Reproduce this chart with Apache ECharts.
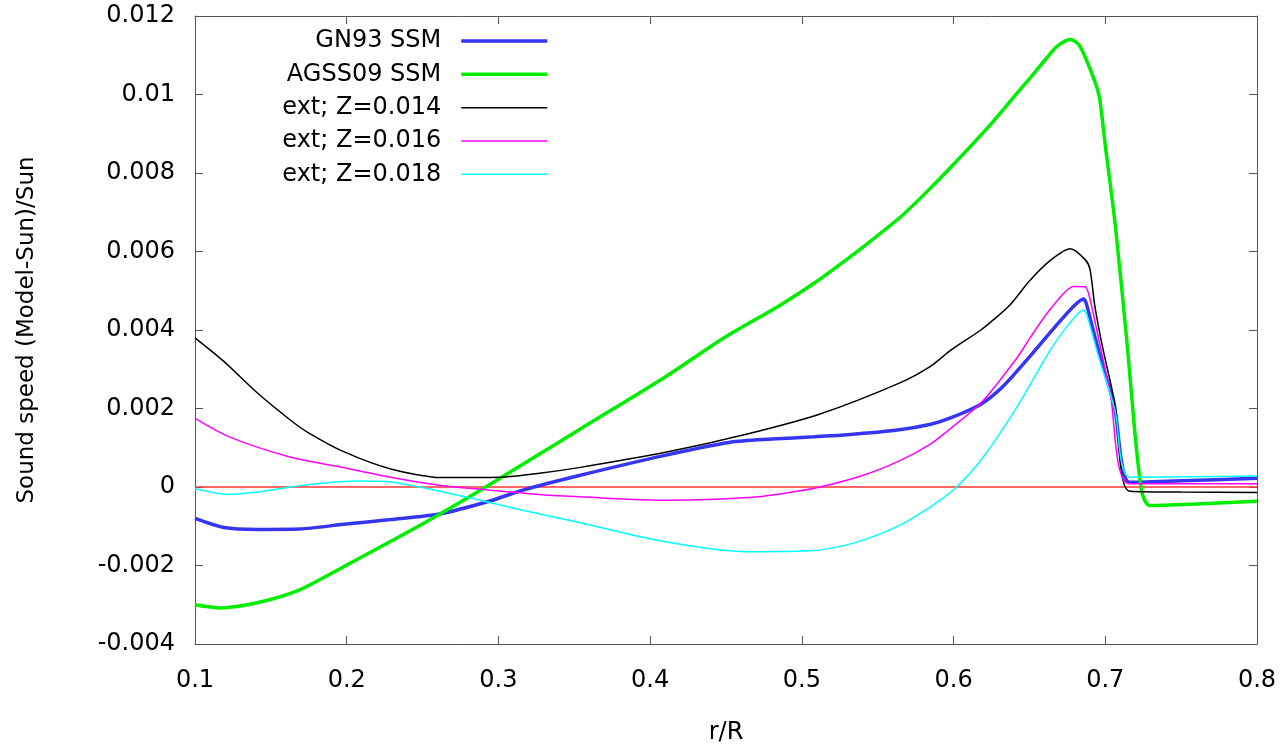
<!DOCTYPE html>
<html>
<head>
<meta charset="utf-8">
<script src="https://cdn.jsdelivr.net/npm/echarts@6/dist/echarts.min.js"></script>
<style>html,body{margin:0;padding:0;background:#fff}#c{width:1285px;height:750px}</style>
</head>
<body>
<div id="c"></div>
<script>
var xTicks = [0.1, 0.2, 0.3, 0.4, 0.5, 0.6, 0.7, 0.8];
var yTicks = [-0.004, -0.002, 0, 0.002, 0.004, 0.006, 0.008, 0.01, 0.012];

var gn93X = [0.100,0.119,0.141,0.169,0.198,0.229,0.262,0.295,0.316,0.354,0.409,0.453,0.480,0.508,0.530,0.563,0.585,0.598,0.618,0.633,0.653,0.668,0.679,0.6856,0.6874,0.692,0.6966,0.703,0.7065,0.716,0.750,0.800];
var gn93Y = [-0.0008,-0.00103,-0.00108,-0.00107,-0.00095,-0.00083,-0.00068,-0.00035,-0.00008,0.0003,0.0008,0.00114,0.00122,0.00128,0.00133,0.00145,0.0016,0.00176,0.00211,0.00258,0.00345,0.00413,0.0046,0.00479,0.00468,0.0040,0.00333,0.00248,0.00194,0.00012,0.00016,0.00022];

var agssX = [0.100,0.1165,0.141,0.169,0.198,0.2505,0.290,0.354,0.411,0.449,0.486,0.508,0.523,0.5405,0.565,0.580,0.598,0.624,0.642,0.6504,0.6614,0.668,0.677,0.683,0.691,0.696,0.700,0.7065,0.7145,0.7197,0.7235,0.7255,0.729,0.760,0.800];
var agssY = [-0.0030,-0.00308,-0.00295,-0.00262,-0.00203,-0.00093,-0.00004,0.00148,0.00283,0.00381,0.00464,0.00519,0.00561,0.00612,0.00688,0.00743,0.00814,0.00922,0.01004,0.01042,0.01093,0.01122,0.01140,0.01125,0.01055,0.00995,0.0087,0.0067,0.0036,0.0013,0.0000,-0.0003,-0.00047,-0.00043,-0.00036];

var z014X = [0.100,0.119,0.141,0.163,0.174,0.198,0.229,0.262,0.301,0.327,0.354,0.411,0.464,0.512,0.565,0.585,0.598,0.618,0.626,0.637,0.650,0.664,0.677,0.687,0.690,0.693,0.698,0.7065,0.7155,0.750,0.800];
var z014Y = [0.0038,0.0032,0.0024,0.0017,0.0014,0.0009,0.00046,0.00024,0.00025,0.00035,0.0005,0.00089,0.00135,0.00186,0.00266,0.00308,0.00348,0.0040,0.00425,0.00463,0.00525,0.00578,0.00607,0.00578,0.00553,0.00464,0.0036,0.0021,-0.0001,-0.00013,-0.00014];

var z016X = [0.100,0.123,0.163,0.196,0.229,0.262,0.295,0.327,0.354,0.413,0.464,0.490,0.512,0.5405,0.565,0.585,0.598,0.619,0.642,0.6504,0.6636,0.679,0.6867,0.6896,0.6944,0.7032,0.716,0.800];
var z016Y = [0.00175,0.00127,0.00076,0.00051,0.00025,0.00004,-0.00008,-0.00019,-0.00025,-0.00034,-0.00027,-0.00015,0.0,0.0003,0.00068,0.0011,0.00149,0.00218,0.0033,0.0038,0.00452,0.00511,0.0051,0.00484,0.0040,0.0024,0.00008,0.00008];

var z018X = [0.100,0.121,0.141,0.163,0.185,0.207,0.229,0.2505,0.2835,0.316,0.354,0.409,0.464,0.508,0.534,0.5626,0.5845,0.602,0.6197,0.6416,0.6636,0.6746,0.6856,0.6878,0.6955,0.7065,0.7164,0.800];
var z018Y = [-0.00004,-0.00019,-0.00013,0.0,0.0001,0.00015,0.00013,-0.00002,-0.0003,-0.00059,-0.00091,-0.00139,-0.00165,-0.00162,-0.00143,-0.00101,-0.00051,0.0,0.00077,0.00203,0.00348,0.00408,0.00451,0.00439,0.00333,0.00194,0.00025,0.00028];

var zeroX = [0.1, 0.8];
var zeroY = [0, 0];

function pairs(xs, ys) { return xs.map(function (x, i) { return [x, ys[i]]; }); }

var FONT = 'DejaVu Sans';
var chart = echarts.init(document.getElementById('c'));

function mkX(pos, labels) {
  return {
    type: 'value', position: pos, min: xTicks[0], max: xTicks[xTicks.length - 1], interval: 0.1,
    axisLine: {show: true, onZero: false, lineStyle: {color: '#555', width: 1}},
    axisTick: {show: true, inside: true, length: 8, lineStyle: {color: '#555'}},
    axisLabel: {show: labels, color: '#000', fontFamily: FONT, fontSize: 24, margin: 25,
      formatter: function (v) { return +v.toFixed(1); }},
    splitLine: {show: false},
    name: labels ? 'r/R' : '', nameLocation: 'middle', nameGap: 77,
    nameTextStyle: {color: '#000', fontFamily: FONT, fontSize: 24}
  };
}
function mkY(pos, labels) {
  return {
    type: 'value', position: pos, min: yTicks[0], max: yTicks[yTicks.length - 1], interval: 0.002,
    axisLine: {show: true, onZero: false, lineStyle: {color: '#555', width: 1}},
    axisTick: {show: true, inside: true, length: 8, lineStyle: {color: '#555'}},
    axisLabel: {show: labels, color: '#000', fontFamily: FONT, fontSize: 24, margin: 20,
      formatter: function (v) { return String(+v.toFixed(3)); }},
    splitLine: {show: false},
    name: labels ? 'Sound speed (Model-Sun)/Sun' : '', nameLocation: 'middle', nameGap: 156,
    nameTextStyle: {color: '#000', fontFamily: FONT, fontSize: 23}
  };
}

function line(name, xs, ys, color, width) {
  return {
    name: name, type: 'line', xAxisIndex: 0, yAxisIndex: 0,
    data: pairs(xs, ys), symbol: 'none', smooth: 0.25,
    lineStyle: {color: color, width: width}, itemStyle: {color: color},
    emphasis: {disabled: true}, animation: false
  };
}

chart.setOption({
  animation: false,
  grid: {left: 195, right: 28, top: 16, bottom: 102, show: false},
  legend: {
    orient: 'vertical', align: 'right', right: 736, top: 29, padding: 0,
    itemWidth: 86, itemHeight: 14, itemGap: 9.33,
    data: ['GN93 SSM', 'AGSS09 SSM', 'ext; Z=0.014', 'ext; Z=0.016', 'ext; Z=0.018'],
    textStyle: {color: '#000', fontFamily: FONT, fontSize: 24, lineHeight: 24, padding: [0, 15, 0, 0]},
    lineStyle: {width: 'inherit'},
    itemStyle: {color: 'rgba(0,0,0,0)', borderColor: 'rgba(0,0,0,0)', borderWidth: 0, opacity: 0},
    selectedMode: false
  },
  xAxis: [mkX('bottom', true), mkX('top', false)],
  yAxis: [mkY('left', true), mkY('right', false)],
  series: [
    line('zero', zeroX, zeroY, '#ff3333', 1.6),
    line('GN93 SSM', gn93X, gn93Y, '#3535f2', 3.5),
    line('AGSS09 SSM', agssX, agssY, '#00ee00', 3.5),
    line('ext; Z=0.014', z014X, z014Y, '#000000', 1.5),
    line('ext; Z=0.016', z016X, z016Y, '#ff00ff', 1.5),
    line('ext; Z=0.018', z018X, z018Y, '#00ffff', 1.5)
  ]
});
</script>
</body>
</html>
